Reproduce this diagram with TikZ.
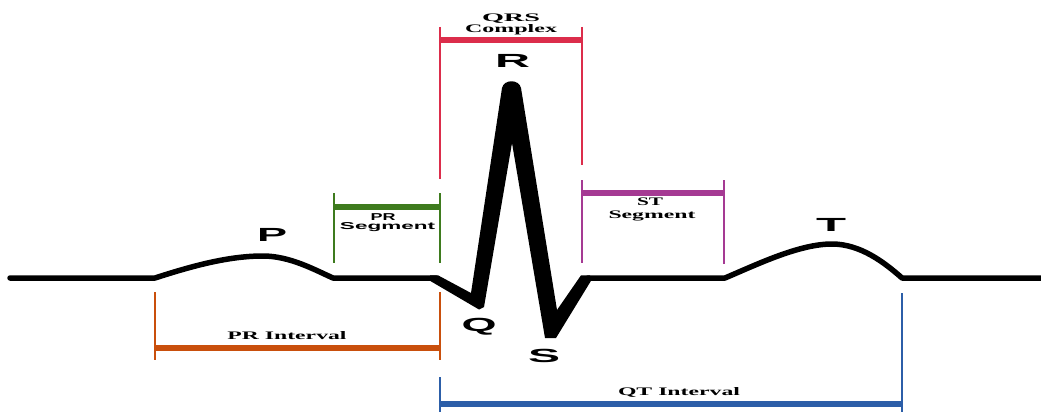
\documentclass[tikz,border=0pt]{standalone}
\usepackage{fontspec}
\usepackage{graphicx}
\setmainfont{Liberation Serif}
\setsansfont{Liberation Sans}
\definecolor{qrsred}{HTML}{DC2D4B}
\definecolor{prgreen}{HTML}{3E7B1E}
\definecolor{stpurple}{HTML}{A53A93}
\definecolor{prorange}{HTML}{C94F0C}
\definecolor{qtblue}{HTML}{2C5EA8}
\newcommand{\hstretch}[2]{\resizebox{#1}{\height}{#2}}
\begin{document}
\begin{tikzpicture}[x=1pt,y=-1pt,
  wave/.style={line width=5.5pt,line cap=round,line join=round},
  barline/.style={line width=6pt},
  tickline/.style={line width=2.2pt},
  wlabel/.style={inner sep=0pt,anchor=base,font=\fontsize{19}{19}\selectfont\sffamily\bfseries},
  slabel/.style={inner sep=0pt,anchor=base,font=\fontsize{11.5}{12}\selectfont\bfseries},
  sslabel/.style={inner sep=0pt,anchor=base,font=\fontsize{10}{11}\selectfont\sffamily\bfseries}]
\useasboundingbox (0,0) rectangle (1041,412);
% waveform anchors
\coordinate (w0) at (10,278);
\coordinate (p0) at (155,278);
\coordinate (p1) at (333,278);
\coordinate (q0) at (436,278);
\coordinate (s1) at (588,278);
\coordinate (t0) at (725,278);
\coordinate (t1) at (902,278);
\coordinate (w1) at (1045,278);
\draw[wave] (w0) -- (p0) .. controls (195,265) and (230,256) .. (263,256)
  .. controls (290,256) and (315,270) .. (p1) -- (q0);
\draw[wave] (s1) -- (t0) .. controls (760,263) and (800,244) .. (832,244)
  .. controls (860,244) and (884,262) .. (t1) -- (w1);
% QRS complex
\fill (430,275.3) -- (438,275.3) -- (471,293) -- (502,88)
  .. controls (504,79) and (519,79) .. (521,88)
  -- (557,310) -- (581,275.3) -- (590,275.3) -- (591,280.8)
  -- (556,338) -- (545,338) -- (512,143) -- (484,307) -- (479,309.5)
  -- (430,280.8) -- cycle;
% wave labels
\node[wlabel] (P) at (272,241) {\hstretch{30pt}{P}};
\node[wlabel] (Q) at (479,331.5) {\hstretch{35pt}{Q}};
\node[wlabel] (R) at (512.5,68) {\hstretch{35pt}{R}};
\node[wlabel] (S) at (544,362) {\hstretch{32pt}{S}};
\node[wlabel] (T) at (831,231) {\hstretch{30pt}{T}};
% QRS complex bracket
\coordinate (qrsL) at (440,40);
\coordinate (qrsR) at (582,40);
\draw[tickline,qrsred] (440,27) -- (440,179);
\draw[tickline,qrsred] (582,27) -- (582,165);
\draw[barline,qrsred] (qrsL) -- (qrsR);
\node[slabel] (qrs1) at (511,22) {\hstretch{58pt}{QRS}};
\node[slabel] (qrs2) at (511,33) {\hstretch{92pt}{Complex}};
% PR segment bracket
\coordinate (prsL) at (334,207);
\coordinate (prsR) at (440,207);
\draw[tickline,prgreen] (334,193) -- (334,263);
\draw[tickline,prgreen] (440,193) -- (440,263);
\draw[barline,prgreen] (prsL) -- (prsR);
\node[sslabel] (prs1) at (383,220) {\hstretch{25pt}{PR}};
\node[sslabel] (prs2) at (387.5,229) {\hstretch{95pt}{Segment}};
% ST segment bracket
\coordinate (stL) at (582,193);
\coordinate (stR) at (724,193);
\draw[tickline,stpurple] (582,180) -- (582,263);
\draw[tickline,stpurple] (724,180) -- (724,264);
\draw[barline,stpurple] (stL) -- (stR);
\node[slabel] (st1) at (650,205) {\hstretch{26pt}{ST}};
\node[slabel] (st2) at (652,218) {\hstretch{87pt}{Segment}};
% PR interval bracket
\coordinate (priL) at (155,348);
\coordinate (priR) at (440,348);
\draw[tickline,prorange] (155,292) -- (155,360);
\draw[tickline,prorange] (440,292) -- (440,360);
\draw[barline,prorange] (priL) -- (priR);
\node[slabel] (pri) at (287,339) {\hstretch{119pt}{PR Interval}};
% QT interval bracket
\coordinate (qtL) at (440,404);
\coordinate (qtR) at (902,404);
\draw[tickline,qtblue] (440,377) -- (440,412);
\draw[tickline,qtblue] (902,293) -- (902,412);
\draw[barline,qtblue] (qtL) -- (qtR);
\node[slabel] (qti) at (679,395) {\hstretch{122pt}{QT Interval}};
\end{tikzpicture}
\end{document}
